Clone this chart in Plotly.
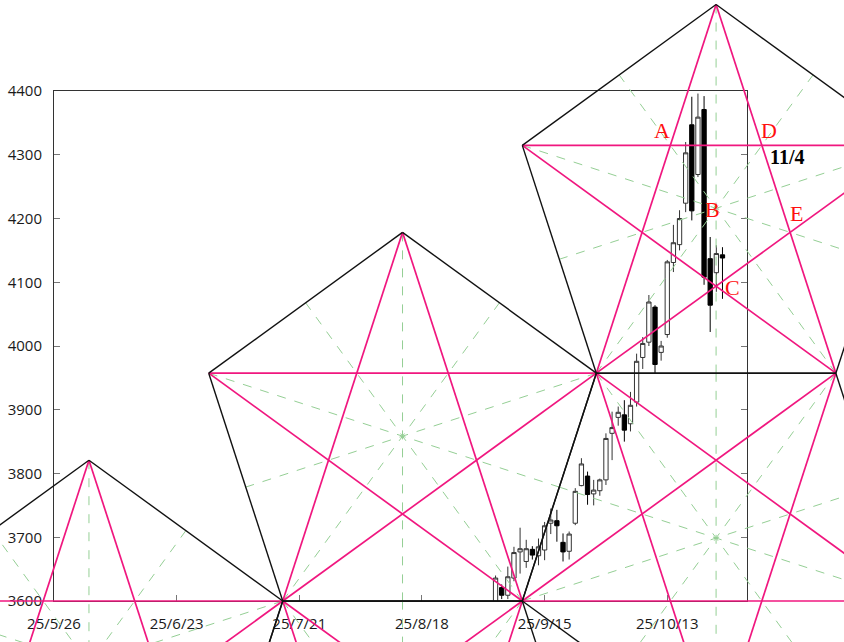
import numpy as np
import plotly.graph_objects as go

# ---------------- data ----------------
start_date = "2025-05-26"
dates = ["2025-09-03", "2025-09-04", "2025-09-05", "2025-09-08", "2025-09-09", "2025-09-10",
         "2025-09-11", "2025-09-12", "2025-09-15", "2025-09-16", "2025-09-17", "2025-09-18",
         "2025-09-19", "2025-09-22", "2025-09-23", "2025-09-24", "2025-09-25", "2025-09-26",
         "2025-09-29", "2025-09-30", "2025-10-01", "2025-10-02", "2025-10-03", "2025-10-06",
         "2025-10-07", "2025-10-08", "2025-10-09", "2025-10-10", "2025-10-13", "2025-10-14",
         "2025-10-15", "2025-10-16", "2025-10-17", "2025-10-20", "2025-10-21", "2025-10-22",
         "2025-10-23", "2025-10-24"]
opens = [3598, 3621, 3609, 3636, 3677, 3662, 3681, 3671, 3680, 3722, 3726, 3692, 3678,
         3722, 3781, 3796, 3768, 3773, 3790, 3863, 3888, 3892, 3878, 3912, 3982, 4006,
         4061, 3990, 4018, 4131, 4159, 4224, 4347, 4269, 4371, 4137, 4115, 4143]
highs = [3640, 3626, 3654, 3685, 3715, 3696, 3686, 3698, 3724, 3745, 3743, 3706, 3709,
         3777, 3824, 3803, 3790, 3792, 3863, 3897, 3905, 3915, 3928, 3988, 4014, 4080,
         4064, 4008, 4135, 4190, 4213, 4320, 4391, 4396, 4392, 4171, 4158, 4155]
lows = [3590, 3603, 3603, 3631, 3643, 3652, 3665, 3656, 3664, 3705, 3693, 3662, 3665,
        3719, 3780, 3751, 3750, 3765, 3782, 3821, 3875, 3850, 3866, 3905, 3964, 4000,
        3957, 3977, 4013, 4116, 4150, 4210, 4197, 4265, 4096, 4022, 4085, 4074]
closes = [3636, 3609, 3638, 3676, 3682, 3682, 3672, 3685, 3718, 3727, 3718, 3677, 3705,
          3772, 3815, 3767, 3774, 3790, 3855, 3872, 3896, 3868, 3907, 3976, 4004, 4069,
          3971, 4000, 4132, 4162, 4200, 4303, 4212, 4359, 4108, 4064, 4145, 4138]

tick_dates = ["2025-05-26", "2025-06-23", "2025-07-21", "2025-08-18", "2025-09-15", "2025-10-13"]
tick_labels = ["25/5/26", "25/6/23", "25/7/21", "25/8/18", "25/9/15", "25/10/13"]
y_ticks = [3600, 3700, 3800, 3900, 4000, 4100, 4200, 4300, 4400]

point_labels = ["A", "B", "C", "D", "E"]
date_label = "11/4"

# ---------------- axes / layout geometry ----------------
X_RANGE = [0, 113.0]          # business-day index axis
Y_RANGE = [3600, 4400]
W, H = 844, 642
M = dict(l=54, r=97, t=91, b=41, autoexpand=False)
PW = W - M["l"] - M["r"]      # plot width in px
PH = H - M["t"] - M["b"]      # plot height in px

def bidx(d):
    return float(np.busday_count(start_date, d))

xs = [bidx(d) for d in dates]
tickvals = [bidx(d) for d in tick_dates]

# data -> pixel (relative to plot bottom-left, y up)
def to_px(ix, price):
    return np.array([(ix - X_RANGE[0]) / (X_RANGE[1] - X_RANGE[0]) * PW,
                     (price - Y_RANGE[0]) / (Y_RANGE[1] - Y_RANGE[0]) * PH])

def to_paper(p):
    return p[0] / PW, p[1] / PH

# overlay anchor: base edge of the middle pentagon (business-day index, price)
BASE_LEFT = (37.3, 3600)
BASE_RIGHT = (76.36, 3600)

def rot(v, deg):
    a = np.radians(deg)
    return np.array([v[0] * np.cos(a) - v[1] * np.sin(a), v[0] * np.sin(a) + v[1] * np.cos(a)])

def pent(p0, p1):
    v = [np.array(p0, float), np.array(p1, float)]
    e = v[1] - v[0]
    for _ in range(3):
        e = rot(e, 72)
        v.append(v[-1] + e)
    return v

bl = to_px(*BASE_LEFT)
br = to_px(*BASE_RIGHT)
s = br[0] - bl[0]
P2 = pent(bl, br)
P5 = pent(br, bl)
P3 = pent(P2[2], P2[2] + np.array([s, 0]))
P4 = pent(P3[1], P3[0])
P1 = pent(P5[2] - np.array([s, 0]), P5[2])
pents = [P1, P2, P3, P4, P5]

BLACK = "#111111"
PINK = "#F0177F"
GREEN = "#95CF95"

shapes = []
def seg(a, b, color, width, dash="solid"):
    x0, y0 = to_paper(a)
    x1, y1 = to_paper(b)
    shapes.append(dict(type="line", xref="paper", yref="paper", x0=x0, y0=y0, x1=x1, y1=y1,
                       line=dict(color=color, width=width, dash=dash), layer="above"))

for P in pents:
    for k in range(5):
        mid = (P[(k + 2) % 5] + P[(k + 3) % 5]) / 2
        seg(P[k], mid, GREEN, 1, "dash")
for P in pents:
    for k in range(5):
        seg(P[k], P[(k + 2) % 5], PINK, 1.7)
for P in pents:
    for k in range(5):
        seg(P[k], P[(k + 1) % 5], BLACK, 1.4)

def inter(a1, a2, b1, b2):
    d1 = a2 - a1
    d2 = b2 - b1
    m = np.array([[d1[0], -d2[0]], [d1[1], -d2[1]]])
    t = np.linalg.solve(m, b1 - a1)
    return a1 + t[0] * d1

ptA = inter(P3[0], P3[3], P3[2], P3[4])
ptD = inter(P3[1], P3[3], P3[2], P3[4])
ptB = sum(P3) / 5
ptC = inter(P3[0], P3[2], P3[1], P3[4])
ptE = inter(P3[0], P3[2], P3[1], P3[3])

annotations = []
def label(pt, text, dx, dy, color, size, bold=False):
    x, y = to_paper(pt)
    annotations.append(dict(xref="paper", yref="paper", x=x, y=y, text=text, showarrow=False,
                            xanchor="center", yanchor="middle", xshift=dx, yshift=dy,
                            font=dict(family="Liberation Serif", size=size, color=color,
                                      weight="bold" if bold else "normal")))

RED = "#FF1010"
label(ptA, point_labels[0], -8, 15, RED, 22)
label(ptB, point_labels[1], -4, -1, RED, 22)
label(ptC, point_labels[2], 16, -1, RED, 22)
label(ptD, point_labels[3], 7, 15, RED, 22)
label(ptE, point_labels[4], 6, 19, RED, 22)
label(ptD, date_label, 25, -12, "#000000", 20, bold=True)

fig = go.Figure()
fig.add_trace(go.Candlestick(
    x=xs, open=opens, high=highs, low=lows, close=closes,
    increasing=dict(line=dict(color="#333333", width=1), fillcolor="white"),
    decreasing=dict(line=dict(color="#000000", width=1), fillcolor="#000000"),
    whiskerwidth=0, showlegend=False, hoverinfo="skip"))

axis_font = dict(family="Open Sans", size=15, color="#1a1a1a")
fig.update_layout(
    width=W, height=H, margin=M,
    paper_bgcolor="white", plot_bgcolor="white",
    showlegend=False, boxgap=0.3, boxgroupgap=0,
    shapes=shapes, annotations=annotations,
    xaxis=dict(range=X_RANGE, tickmode="array", tickvals=tickvals, ticktext=tick_labels,
               automargin=False,
               showgrid=False, zeroline=False, showline=True, linecolor="#333333", linewidth=1,
               mirror=True, ticks="inside", ticklen=6, tickcolor="#777777",
               tickfont=axis_font, ticklabelstandoff=9, rangeslider=dict(visible=False)),
    yaxis=dict(range=Y_RANGE, tickmode="array", tickvals=y_ticks, automargin=False,
               showgrid=False, zeroline=False, showline=True, linecolor="#333333", linewidth=1,
               mirror="ticks", ticks="inside", ticklen=6, tickcolor="#777777",
               tickfont=axis_font, ticklabelstandoff=8),
)

fig.write_html("out.html", config={"displayModeBar": False},
               post_script="document.body.style.margin='0';document.body.style.overflow='hidden';")
